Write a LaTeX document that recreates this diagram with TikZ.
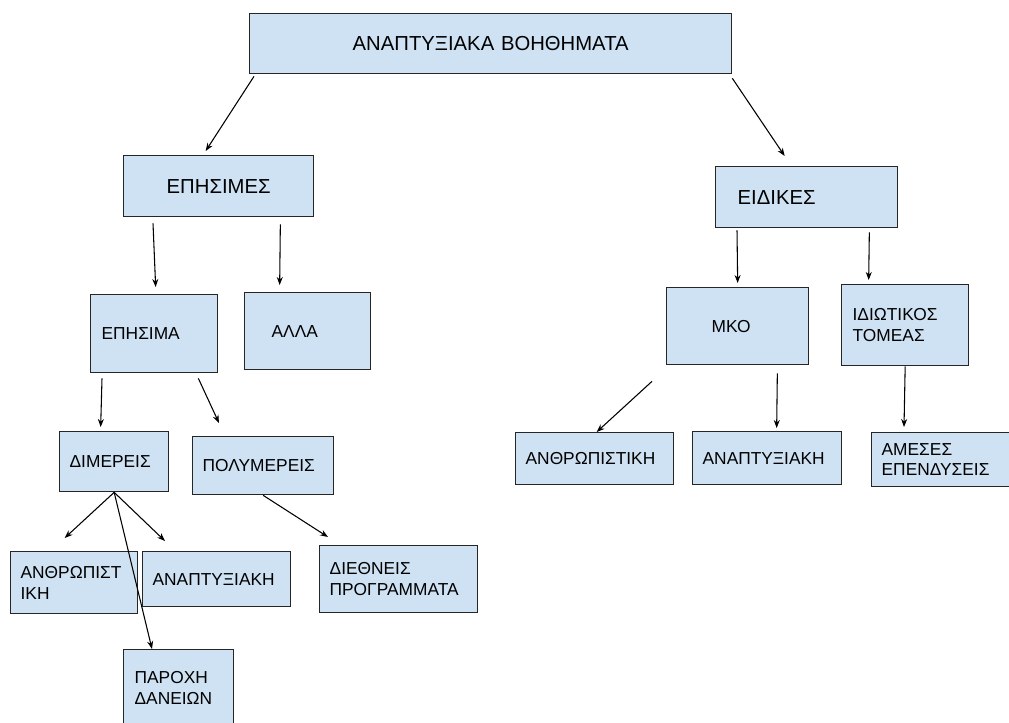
\documentclass[tikz,border=0pt]{standalone}
\usepackage{fontspec}
\setmainfont{Liberation Sans}
\usepackage{xcolor}
\usepackage{tikz}
\usetikzlibrary{arrows.meta,calc}
\definecolor{boxfill}{HTML}{CFE2F3}
\definecolor{boxline}{HTML}{262626}

\begin{document}
\begin{tikzpicture}[x=0.75pt, y=-0.75pt,
	box/.style={draw=boxline, fill=boxfill, line width=1pt, anchor=north west, align=left, inner ysep=0pt, inner xsep=7.5pt, font=\fontsize{13}{15.5}\selectfont},
	bigbox/.style={box, font=\fontsize{15.2}{18}\selectfont},
	arr/.style={-{Stealth[length=6pt,width=4.5pt]}, line width=0.8pt}]
	\useasboundingbox (0,0) rectangle (1009,722);

	% top
	\node[bigbox, align=center, inner xsep=0pt, text width=361.5pt, minimum height=45pt] (aid) at (249,13) {ΑΝΑΠΤΥΞΙΑΚΑ ΒΟΗΘΗΜΑΤΑ};
	\node[bigbox, align=center, inner xsep=0pt, text width=142.5pt, minimum height=45.75pt] (epsimes) at (123,155) {ΕΠΗΣΙΜΕΣ};
	\node[bigbox, inner xsep=16.5pt, text width=103.5pt, minimum height=45.75pt] (eidikes) at (715,166) {ΕΙΔΙΚΕΣ};

	% left branch
	\node[box, inner xsep=8.25pt, text width=78.75pt, minimum height=58.5pt] (episima) at (90,294) {ΕΠΗΣΙΜΑ};
	\node[box, inner xsep=20.25pt, text width=54pt, minimum height=57.75pt] (alla) at (244,292) {ΑΛΛΑ};
	\node[box, text width=66.75pt, minimum height=45pt] (dimereis) at (59,431) {ΔΙΜΕΡΕΙΣ};
	\node[box, text width=90.75pt, minimum height=43.5pt] (polymereis) at (192,436) {ΠΟΛΥΜΕΡΕΙΣ};
	\node[box, text width=80.25pt, minimum height=46.5pt] (anthrL) at (10,551) {ΑΝΘΡΩΠΙΣΤ\\ΙΚΗ};
	\node[box, text width=96pt, minimum height=41.25pt] (anaptL) at (142,551) {ΑΝΑΠΤΥΞΙΑΚΗ};
	\node[box, text width=103.5pt, minimum height=50.25pt] (diethneis) at (319,545) {ΔΙΕΘΝΕΙΣ\\ΠΡΟΓΡΑΜΜΑΤΑ};
	\node[box, inner xsep=8.25pt, text width=66pt, minimum height=57.75pt] (paroxi) at (123,649) {ΠΑΡΟΧΗ\\ΔΑΝΕΙΩΝ};

	% right branch
	\node[box, inner xsep=33.75pt, text width=39pt, minimum height=57.75pt] (mko) at (666,287) {ΜΚΟ};
	\node[box, inner xsep=8.25pt, text width=78.75pt, minimum height=60.75pt] (idiotikos) at (841,284) {ΙΔΙΩΤΙΚΟΣ\\ΤΟΜΕΑΣ};
	\node[box, text width=103.5pt, minimum height=39pt] (anthrR) at (515,432) {ΑΝΘΡΩΠΙΣΤΙΚΗ};
	\node[box, text width=96.75pt, minimum height=39.75pt] (anaptR) at (692,431) {ΑΝΑΠΤΥΞΙΑΚΗ};
	\node[box, text width=90.75pt, minimum height=40.5pt] (ameses) at (871,432) {ΑΜΕΣΕΣ\\ΕΠΕΝΔΥΣΕΙΣ};

	% arrows
	\draw[arr] ($(aid.south west)+(5,2)$) -- ($(epsimes.north)+(-13,-4)$);
	\draw[arr] ($(aid.south east)+(0,4)$) -- ($(eidikes.north)+(-22,-10)$);
	\draw[arr] ($(epsimes.south west)+(30,6)$) -- ($(episima.north)+(1.5,-7)$);
	\draw[arr] ($(epsimes.south east)+(-34,7)$) -- ($(alla.north)+(-28,-7)$);
	\draw[arr] ($(eidikes.south west)+(22,2)$) -- ($(mko.north)+(0,-4)$);
	\draw[arr] ($(eidikes.south east)+(-29,4)$) -- ($(idiotikos.north)+(-36.5,-4)$);
	\draw[arr] ($(mko.south west)+(-14,16)$) -- ($(anthrR.north)+(2,0)$);
	\draw[arr] ($(mko.south east)+(-32,8)$) -- ($(anaptR.north)+(9.5,-3)$);
	\draw[arr] (idiotikos.south) -- ($(ameses.north west)+(33,-5)$);
	\draw[arr] ($(episima.south west)+(12,5)$) -- ($(dimereis.north)+(-13.5,-4)$);
	\draw[arr] ($(episima.south east)+(-20,5)$) -- ($(polymereis.north west)+(27,-13)$);
	\draw[arr] (dimereis.south) -- ($(anthrL.north)+(-9.5,-13)$);
	\draw[arr] (dimereis.south) -- ($(anaptL.north west)+(23,-10)$);
	\draw[arr] (dimereis.south) -- ($(paroxi.north west)+(29,0)$);
	\draw[arr] (polymereis.south) -- ($(diethneis.north west)+(9,-8)$);
\end{tikzpicture}
\end{document}
